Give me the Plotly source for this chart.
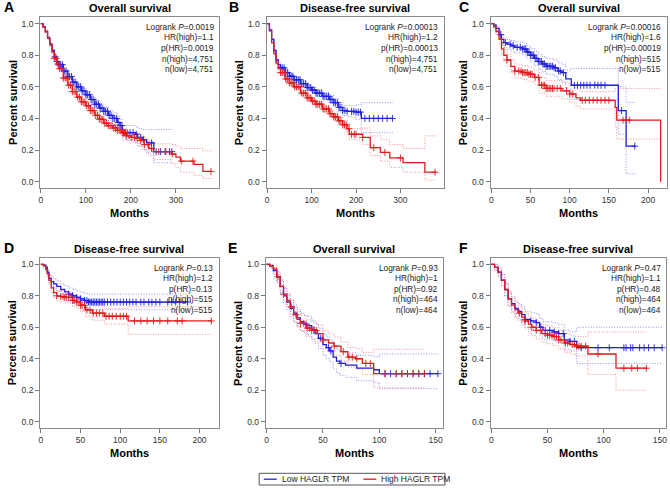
import numpy as np
import plotly.graph_objects as go

# ---------------- data ----------------
# Panel A - Overall survival (n=4,751 per group)
A_low_t = [0, 5, 10, 15, 20, 25, 30, 35, 40, 50, 60, 70, 80, 90, 100, 110, 120, 130, 140, 150, 160, 170, 176, 181, 210, 215, 225, 235, 251, 292]
A_low_s = [1.0, 0.98, 0.95, 0.91, 0.87, 0.83, 0.79, 0.76, 0.74, 0.70, 0.665, 0.63, 0.60, 0.575, 0.55, 0.52, 0.49, 0.465, 0.445, 0.42, 0.40, 0.375, 0.355, 0.31, 0.30, 0.28, 0.265, 0.245, 0.19, 0.19]
A_low_hi = [1.0, 0.985, 0.957, 0.92, 0.88, 0.84, 0.80, 0.772, 0.752, 0.713, 0.68, 0.645, 0.617, 0.593, 0.57, 0.542, 0.515, 0.492, 0.474, 0.452, 0.435, 0.412, 0.395, 0.355, 0.35, 0.335, 0.33, 0.33, 0.33, 0.33]
A_low_lo = [1.0, 0.975, 0.943, 0.90, 0.86, 0.82, 0.78, 0.748, 0.728, 0.687, 0.65, 0.615, 0.583, 0.557, 0.53, 0.498, 0.465, 0.438, 0.416, 0.388, 0.365, 0.338, 0.315, 0.265, 0.25, 0.225, 0.205, 0.18, 0.12, 0.12]
A_low_cens = [32, 36, 40, 44, 48, 52, 56, 60, 64, 68, 72, 76, 80, 84, 88, 92, 96, 100, 104, 108, 112, 116, 120, 124, 128, 132, 136, 140, 144, 148, 152, 156, 160, 164, 168, 172, 176, 180, 184, 188, 192, 198, 205, 212, 222, 228, 246, 256, 266, 276, 286, 291]
A_high_t = [0, 5, 10, 15, 20, 25, 30, 35, 40, 50, 60, 70, 80, 90, 100, 110, 120, 130, 140, 150, 160, 170, 180, 190, 200, 210, 220, 230, 240, 250, 290, 300, 310, 340, 360, 380]
A_high_s = [1.0, 0.98, 0.95, 0.91, 0.865, 0.82, 0.78, 0.745, 0.715, 0.655, 0.61, 0.57, 0.535, 0.505, 0.48, 0.45, 0.42, 0.395, 0.37, 0.355, 0.34, 0.325, 0.31, 0.29, 0.28, 0.275, 0.26, 0.235, 0.21, 0.19, 0.175, 0.155, 0.13, 0.11, 0.065, 0.065]
A_high_hi = [1.0, 0.985, 0.957, 0.918, 0.874, 0.83, 0.79, 0.755, 0.726, 0.667, 0.622, 0.583, 0.549, 0.52, 0.496, 0.467, 0.438, 0.414, 0.39, 0.376, 0.362, 0.349, 0.336, 0.318, 0.31, 0.308, 0.296, 0.275, 0.255, 0.24, 0.235, 0.225, 0.21, 0.21, 0.195, 0.2]
A_high_lo = [1.0, 0.975, 0.943, 0.902, 0.856, 0.81, 0.77, 0.735, 0.704, 0.643, 0.598, 0.557, 0.521, 0.49, 0.464, 0.433, 0.402, 0.376, 0.35, 0.334, 0.318, 0.301, 0.284, 0.262, 0.25, 0.242, 0.224, 0.195, 0.165, 0.14, 0.115, 0.09, 0.06, 0.04, 0.02, 0.02]
A_high_cens = [30, 34, 38, 42, 46, 50, 54, 58, 62, 66, 70, 74, 78, 82, 86, 90, 94, 98, 102, 106, 110, 114, 118, 122, 126, 130, 134, 138, 142, 146, 150, 154, 158, 162, 166, 170, 174, 178, 182, 186, 190, 196, 202, 208, 214, 222, 230, 238, 246, 262, 278, 292, 312, 338, 378]
A_stats = ["Logrank <i>P</i>=0.0019", "HR(high)=1.1", "p(HR)=0.0019", "n(high)=4,751", "n(low)=4,751"]

# Panel B - Disease-free survival (n=4,751 per group)
B_low_t = [0, 5, 10, 15, 20, 25, 30, 40, 50, 60, 75, 90, 100, 110, 125, 140, 150, 160, 170, 180, 200, 212, 283]
B_low_s = [1.0, 0.96, 0.90, 0.83, 0.77, 0.74, 0.72, 0.69, 0.667, 0.645, 0.62, 0.595, 0.58, 0.56, 0.54, 0.52, 0.50, 0.47, 0.45, 0.445, 0.44, 0.40, 0.40]
B_low_hi = [1.0, 0.966, 0.908, 0.839, 0.78, 0.751, 0.731, 0.702, 0.68, 0.659, 0.635, 0.611, 0.598, 0.58, 0.562, 0.545, 0.527, 0.5, 0.482, 0.48, 0.485, 0.50, 0.50]
B_low_lo = [1.0, 0.954, 0.892, 0.821, 0.76, 0.729, 0.709, 0.678, 0.654, 0.631, 0.605, 0.579, 0.562, 0.54, 0.518, 0.495, 0.473, 0.44, 0.418, 0.41, 0.395, 0.31, 0.31]
B_low_cens = [30, 34, 38, 42, 46, 50, 54, 58, 62, 66, 70, 74, 78, 82, 86, 90, 94, 98, 102, 106, 110, 114, 118, 122, 126, 130, 134, 138, 142, 146, 150, 154, 158, 162, 166, 170, 175, 180, 190, 195, 200, 205, 210, 220, 230, 240, 250, 260, 270, 282]
B_high_t = [0, 5, 10, 15, 20, 25, 30, 40, 50, 60, 75, 90, 100, 110, 125, 140, 150, 160, 170, 180, 185, 215, 232, 255, 276, 306, 355, 380]
B_high_s = [1.0, 0.955, 0.88, 0.81, 0.75, 0.715, 0.69, 0.65, 0.625, 0.60, 0.56, 0.53, 0.51, 0.49, 0.46, 0.43, 0.41, 0.385, 0.36, 0.335, 0.30, 0.28, 0.215, 0.185, 0.15, 0.12, 0.06, 0.06]
B_high_hi = [1.0, 0.961, 0.888, 0.819, 0.76, 0.726, 0.701, 0.662, 0.638, 0.614, 0.575, 0.546, 0.527, 0.508, 0.48, 0.452, 0.434, 0.41, 0.387, 0.365, 0.335, 0.34, 0.29, 0.265, 0.235, 0.21, 0.29, 0.29]
B_high_lo = [1.0, 0.949, 0.872, 0.801, 0.74, 0.704, 0.679, 0.638, 0.612, 0.586, 0.545, 0.514, 0.493, 0.472, 0.44, 0.408, 0.386, 0.36, 0.333, 0.305, 0.265, 0.235, 0.165, 0.13, 0.09, 0.06, 0.01, 0.01]
B_high_cens = [30, 34, 38, 42, 46, 50, 54, 58, 62, 66, 70, 74, 78, 82, 86, 90, 94, 98, 102, 106, 110, 114, 118, 122, 126, 130, 134, 138, 142, 146, 150, 154, 158, 162, 166, 170, 174, 178, 184, 190, 196, 200, 215, 240, 265, 300, 378]
B_stats = ["Logrank <i>P</i>=0.00013", "HR(high)=1.2", "p(HR)=0.00013", "n(high)=4,751", "n(low)=4,751"]

# Panel C - Overall survival (n=515 per group)
C_low_t = [0, 3, 6, 10, 13, 16, 20, 25, 30, 40, 45, 50, 55, 60, 65, 70, 80, 85, 90, 95, 102, 162, 172, 184]
C_low_s = [1.0, 0.99, 0.97, 0.93, 0.90, 0.88, 0.87, 0.86, 0.85, 0.84, 0.82, 0.80, 0.78, 0.76, 0.745, 0.73, 0.72, 0.70, 0.69, 0.65, 0.61, 0.45, 0.225, 0.225]
C_low_hi = [1.0, 1.0, 0.985, 0.955, 0.93, 0.91, 0.90, 0.893, 0.885, 0.877, 0.86, 0.842, 0.823, 0.805, 0.792, 0.778, 0.77, 0.752, 0.743, 0.706, 0.716, 0.6, 0.5, 0.5]
C_low_lo = [1.0, 0.98, 0.955, 0.905, 0.87, 0.85, 0.838, 0.826, 0.814, 0.802, 0.78, 0.757, 0.735, 0.713, 0.697, 0.68, 0.668, 0.647, 0.635, 0.592, 0.52, 0.3, 0.05, 0.05]
C_low_cens = [12, 18, 24, 28, 33, 37, 40, 42, 44, 46, 48, 50, 52, 54, 56, 58, 60, 62, 64, 66, 68, 70, 72, 74, 76, 78, 80, 82, 86, 88, 92, 106, 110, 114, 118, 122, 126, 132, 136, 140, 145, 166, 183]
C_high_t = [0, 3, 6, 10, 13, 16, 20, 25, 30, 40, 47, 55, 61, 70, 90, 100, 108, 114, 158, 160, 216]
C_high_s = [1.0, 0.98, 0.95, 0.90, 0.84, 0.80, 0.77, 0.73, 0.70, 0.69, 0.68, 0.66, 0.61, 0.59, 0.575, 0.555, 0.53, 0.515, 0.47, 0.39, 0.0]
C_high_hi = [1.0, 0.995, 0.972, 0.93, 0.875, 0.837, 0.809, 0.771, 0.743, 0.734, 0.725, 0.706, 0.658, 0.64, 0.626, 0.608, 0.585, 0.57, 0.59, 0.59, 0.59]
C_high_lo = [1.0, 0.965, 0.928, 0.87, 0.805, 0.763, 0.731, 0.689, 0.657, 0.646, 0.635, 0.614, 0.562, 0.54, 0.524, 0.502, 0.475, 0.46, 0.35, 0.27, 0.27]
C_high_cens = [20, 30, 35, 38, 40, 42, 44, 46, 48, 50, 52, 56, 60, 64, 66, 68, 70, 72, 74, 76, 78, 80, 84, 88, 96, 100, 104, 116, 120, 125, 130, 135, 140, 145, 150, 168, 172, 176]
C_stats = ["Logrank <i>P</i>=0.00016", "HR(high)=1.6", "p(HR)=0.00019", "n(high)=515", "n(low)=515"]

# Panel D - Disease-free survival (n=515 per group)
D_low_t = [0, 3, 6, 8, 10, 13, 16, 20, 25, 30, 35, 40, 45, 50, 55, 60, 185]
D_low_s = [1.0, 0.995, 0.98, 0.95, 0.91, 0.89, 0.875, 0.86, 0.84, 0.825, 0.81, 0.80, 0.79, 0.78, 0.77, 0.76, 0.76]
D_low_hi = [1.0, 1.0, 0.995, 0.972, 0.937, 0.92, 0.906, 0.893, 0.875, 0.862, 0.849, 0.84, 0.831, 0.823, 0.814, 0.81, 0.81]
D_low_lo = [1.0, 0.988, 0.965, 0.928, 0.883, 0.86, 0.844, 0.827, 0.805, 0.788, 0.771, 0.76, 0.749, 0.737, 0.726, 0.712, 0.712]
D_low_cens = [35, 40, 45, 50, 55, 58, 60, 62, 64, 66, 68, 70, 72, 74, 76, 78, 80, 84, 88, 92, 96, 100, 104, 108, 112, 116, 120, 126, 130, 136, 140, 145, 150, 160, 165, 170, 175, 185]
D_high_t = [0, 3, 6, 8, 10, 13, 16, 20, 25, 30, 40, 45, 50, 56, 65, 80, 110, 215]
D_high_s = [1.0, 0.99, 0.97, 0.94, 0.90, 0.85, 0.82, 0.80, 0.795, 0.79, 0.77, 0.76, 0.74, 0.71, 0.69, 0.67, 0.64, 0.64]
D_high_hi = [1.0, 1.0, 0.985, 0.962, 0.927, 0.88, 0.852, 0.833, 0.829, 0.825, 0.807, 0.798, 0.78, 0.752, 0.735, 0.72, 0.73, 0.73]
D_high_lo = [1.0, 0.98, 0.955, 0.918, 0.873, 0.82, 0.788, 0.767, 0.761, 0.755, 0.733, 0.722, 0.7, 0.668, 0.645, 0.62, 0.555, 0.555]
D_high_cens = [20, 25, 28, 30, 32, 35, 38, 40, 42, 45, 48, 50, 52, 55, 58, 62, 66, 70, 74, 78, 82, 86, 90, 95, 100, 104, 108, 118, 126, 134, 142, 150, 160, 172, 178, 215]
D_stats = ["Logrank <i>P</i>=0.13", "HR(high)=1.2", "p(HR)=0.13", "n(high)=515", "n(low)=515"]

# Panel E - Overall survival (n=464 per group)
E_low_t = [0, 3, 6, 9, 12, 15, 18, 21, 24, 27, 30, 33, 36, 40, 43, 46, 50, 53, 56, 59, 62, 65, 70, 80, 95, 100, 152]
E_low_s = [1.0, 0.99, 0.96, 0.92, 0.86, 0.80, 0.76, 0.72, 0.69, 0.66, 0.635, 0.62, 0.61, 0.585, 0.56, 0.53, 0.49, 0.47, 0.45, 0.41, 0.385, 0.37, 0.36, 0.34, 0.33, 0.305, 0.305]
E_low_hi = [1.0, 1.0, 0.98, 0.95, 0.9, 0.845, 0.808, 0.77, 0.742, 0.714, 0.69, 0.677, 0.668, 0.645, 0.622, 0.594, 0.557, 0.539, 0.52, 0.484, 0.46, 0.447, 0.438, 0.42, 0.412, 0.43, 0.43]
E_low_lo = [1.0, 0.975, 0.935, 0.885, 0.82, 0.755, 0.712, 0.67, 0.638, 0.606, 0.58, 0.563, 0.552, 0.525, 0.498, 0.466, 0.423, 0.401, 0.38, 0.336, 0.31, 0.293, 0.282, 0.26, 0.248, 0.21, 0.21]
E_low_cens = [35, 42, 48, 55, 57, 66, 105, 110, 115, 120, 125, 130, 135, 140, 145, 152]
E_high_t = [0, 3, 6, 9, 12, 15, 18, 21, 24, 27, 30, 35, 40, 45, 50, 55, 60, 66, 72, 79, 85, 95, 140]
E_high_s = [1.0, 0.99, 0.97, 0.92, 0.86, 0.81, 0.77, 0.73, 0.68, 0.65, 0.625, 0.595, 0.58, 0.56, 0.52, 0.50, 0.48, 0.445, 0.41, 0.40, 0.37, 0.305, 0.305]
E_high_hi = [1.0, 1.0, 0.99, 0.955, 0.9, 0.853, 0.815, 0.777, 0.729, 0.7, 0.676, 0.648, 0.634, 0.615, 0.577, 0.558, 0.539, 0.506, 0.473, 0.465, 0.44, 0.46, 0.46]
E_high_lo = [1.0, 0.98, 0.945, 0.885, 0.82, 0.767, 0.725, 0.683, 0.631, 0.6, 0.574, 0.542, 0.526, 0.505, 0.463, 0.442, 0.421, 0.384, 0.347, 0.335, 0.3, 0.215, 0.215]
E_high_cens = [10, 15, 22, 26, 30, 33, 36, 38, 40, 42, 44, 50, 60, 68, 73, 76, 80, 88, 92, 105, 115, 120, 125, 130, 135, 140]
E_stats = ["Logrank <i>P</i>=0.93", "HR(high)=1", "p(HR)=0.92", "n(high)=464", "n(low)=464"]

# Panel F - Disease-free survival (n=464 per group)
F_low_t = [0, 3, 6, 9, 12, 15, 18, 21, 24, 27, 30, 35, 40, 43, 46, 55, 60, 65, 70, 76, 152]
F_low_s = [1.0, 0.98, 0.95, 0.90, 0.84, 0.78, 0.75, 0.72, 0.70, 0.68, 0.65, 0.64, 0.63, 0.60, 0.58, 0.57, 0.56, 0.52, 0.51, 0.47, 0.47]
F_low_hi = [1.0, 1.0, 0.975, 0.935, 0.88, 0.825, 0.797, 0.768, 0.749, 0.73, 0.701, 0.692, 0.683, 0.655, 0.636, 0.627, 0.618, 0.58, 0.571, 0.6, 0.6]
F_low_lo = [1.0, 0.965, 0.925, 0.865, 0.8, 0.735, 0.703, 0.672, 0.651, 0.63, 0.599, 0.588, 0.577, 0.545, 0.524, 0.513, 0.502, 0.46, 0.449, 0.37, 0.37]
F_low_cens = [30, 35, 40, 44, 48, 52, 56, 60, 64, 70, 74, 80, 95, 105, 118, 120, 124, 126, 132, 136, 140, 145, 152]
F_high_t = [0, 3, 6, 9, 12, 15, 18, 21, 24, 27, 30, 33, 36, 40, 45, 50, 55, 60, 65, 70, 75, 86, 111, 138]
F_high_s = [1.0, 0.98, 0.95, 0.90, 0.84, 0.78, 0.74, 0.71, 0.69, 0.665, 0.64, 0.62, 0.60, 0.58, 0.56, 0.55, 0.54, 0.52, 0.50, 0.49, 0.48, 0.43, 0.34, 0.34]
F_high_hi = [1.0, 1.0, 0.975, 0.935, 0.88, 0.825, 0.787, 0.758, 0.739, 0.715, 0.691, 0.672, 0.653, 0.634, 0.615, 0.606, 0.597, 0.578, 0.559, 0.55, 0.541, 0.57, 0.57, 0.57]
F_high_lo = [1.0, 0.96, 0.925, 0.865, 0.8, 0.735, 0.693, 0.662, 0.641, 0.615, 0.589, 0.568, 0.547, 0.526, 0.505, 0.494, 0.483, 0.462, 0.441, 0.43, 0.419, 0.3, 0.2, 0.2]
F_high_cens = [25, 30, 36, 40, 44, 48, 50, 52, 54, 56, 58, 60, 62, 66, 68, 72, 74, 76, 78, 80, 84, 95, 118, 125, 130, 138]
F_stats = ["Logrank <i>P</i>=0.47", "HR(high)=1.1", "p(HR)=0.48", "n(high)=464", "n(low)=464"]

Y_TICKS = [0.0, 0.2, 0.4, 0.6, 0.8, 1.0]
Y_TICK_LABELS = ["0.0", "0.2", "0.4", "0.6", "0.8", "1.0"]
LEGEND_LABELS = ["Low HAGLR TPM", "High HAGLR TPM"]

# ---------------- styling / layout ----------------
W, H = 670, 489
FONT = "Liberation Sans, Arial, Helvetica, sans-serif"
BLUE, RED = "#1f1fe0", "#e41a1c"
BLUE_CI, RED_CI = "rgba(80,80,245,0.7)", "rgba(245,80,80,0.7)"

def px(x):
    return x / W

def py(y):
    return 1 - y / H

panels = [
    dict(letter="A", title="Overall survival", box=(38.3, 17.3, 218.3, 188.0), xr=[-1.5, 396.5], xt=[0, 100, 200, 300],
         low=(A_low_t, A_low_s, A_low_lo, A_low_hi, A_low_cens), high=(A_high_t, A_high_s, A_high_lo, A_high_hi, A_high_cens), stats=A_stats),
    dict(letter="B", title="Disease-free survival", box=(265.7, 17.3, 443.5, 188.0), xr=[-1.5, 397], xt=[0, 100, 200, 300],
         low=(B_low_t, B_low_s, B_low_lo, B_low_hi, B_low_cens), high=(B_high_t, B_high_s, B_high_lo, B_high_hi, B_high_cens), stats=B_stats),
    dict(letter="C", title="Overall survival", box=(490.7, 17.3, 667.5, 188.0), xr=[-1, 223.5], xt=[0, 50, 100, 150, 200],
         low=(C_low_t, C_low_s, C_low_lo, C_low_hi, C_low_cens), high=(C_high_t, C_high_s, C_high_lo, C_high_hi, C_high_cens), stats=C_stats),
    dict(letter="D", title="Disease-free survival", box=(38.3, 258.0, 217.5, 428.0), xr=[-1, 224], xt=[0, 50, 100, 150, 200],
         low=(D_low_t, D_low_s, D_low_lo, D_low_hi, D_low_cens), high=(D_high_t, D_high_s, D_high_lo, D_high_hi, D_high_cens), stats=D_stats),
    dict(letter="E", title="Overall survival", box=(265.0, 258.0, 443.0, 428.0), xr=[-0.7, 156.5], xt=[0, 50, 100, 150],
         low=(E_low_t, E_low_s, E_low_lo, E_low_hi, E_low_cens), high=(E_high_t, E_high_s, E_high_lo, E_high_hi, E_high_cens), stats=E_stats),
    dict(letter="F", title="Disease-free survival", box=(490.7, 258.0, 667.0, 428.0), xr=[-0.7, 155.5], xt=[0, 50, 100, 150],
         low=(F_low_t, F_low_s, F_low_lo, F_low_hi, F_low_cens), high=(F_high_t, F_high_s, F_high_lo, F_high_hi, F_high_cens), stats=F_stats),
]

fig = go.Figure()
annotations = []
layout_axes = {}

def step_at(t, s, c):
    t = np.asarray(t, float)
    s = np.asarray(s, float)
    idx = np.searchsorted(t, np.asarray(c, float), side="right") - 1
    return s[np.clip(idx, 0, len(s) - 1)]

for i, p in enumerate(panels, start=1):
    xa = "x" if i == 1 else f"x{i}"
    ya = "y" if i == 1 else f"y{i}"
    l, t_, r, b = p["box"]
    # CI lines
    for (cur, cic) in ((p["low"], BLUE_CI), (p["high"], RED_CI)):
        tt, ss, lo, hi, cens = cur
        for band in (lo, hi):
            fig.add_trace(go.Scatter(x=tt, y=band, mode="lines",
                                     line=dict(color=cic, width=0.9, dash="1px,1.6px", shape="hv"),
                                     xaxis=xa, yaxis=ya, showlegend=False, hoverinfo="skip"))
    # main curves and censor marks (low first, high on top)
    for (cur, col) in ((p["low"], BLUE), (p["high"], RED)):
        tt, ss, lo, hi, cens = cur
        fig.add_trace(go.Scatter(x=tt, y=ss, mode="lines", line=dict(color=col, width=1.3, shape="hv"),
                                 xaxis=xa, yaxis=ya, showlegend=False))
        fig.add_trace(go.Scatter(x=cens, y=step_at(tt, ss, cens), mode="markers",
                                 marker=dict(symbol="cross-thin", size=5, line=dict(color=col, width=0.9)),
                                 xaxis=xa, yaxis=ya, showlegend=False))
    layout_axes["xaxis" if i == 1 else f"xaxis{i}"] = dict(
        domain=[px(l), px(r)], range=p["xr"], anchor=ya, tickvals=p["xt"], ticks="outside", ticklen=4,
        tickcolor="#7a7a7a", showline=True, linecolor="#8a8a8a", linewidth=1, mirror=True, showgrid=False,
        zeroline=False, tickfont=dict(size=8.5, color="#333333", family=FONT))
    layout_axes["yaxis" if i == 1 else f"yaxis{i}"] = dict(
        domain=[py(b), py(t_)], range=[-0.04, 1.04], anchor=xa, tickvals=Y_TICKS, ticktext=Y_TICK_LABELS,
        ticks="outside", ticklen=4, tickcolor="#7a7a7a", showline=True, linecolor="#8a8a8a", linewidth=1,
        mirror=True, showgrid=False, zeroline=False, tickfont=dict(size=8.5, color="#333333", family=FONT))

    cx = (l + r) / 2
    # panel title
    annotations.append(dict(x=px(cx), y=py(t_ - 9), xref="paper", yref="paper", text=f"<b>{p['title']}</b>",
                            showarrow=False, xanchor="center", yanchor="middle",
                            font=dict(size=11, color="black", family=FONT)))
    # panel letter
    lx = 0.0 if l < 100 else (l - 40.0 if l < 300 else l - 34.0)
    annotations.append(dict(x=px(lx), y=py(t_ - 10), xref="paper", yref="paper", text=f"<b>{p['letter']}</b>",
                            showarrow=False, xanchor="left", yanchor="middle",
                            font=dict(size=14, color="black", family=FONT)))
    # axis titles
    annotations.append(dict(x=px(cx), y=py(b + 24.5), xref="paper", yref="paper", text="<b>Months</b>",
                            showarrow=False, xanchor="center", yanchor="middle",
                            font=dict(size=11, color="black", family=FONT)))
    annotations.append(dict(x=px(l - 28), y=py((t_ + b) / 2), xref="paper", yref="paper", text="<b>Percent survival</b>",
                            showarrow=False, xanchor="center", yanchor="middle", textangle=-90,
                            font=dict(size=11, color="black", family=FONT)))
    # stats lines
    for k, line in enumerate(p["stats"]):
        annotations.append(dict(x=px(r - 3.5), y=py(t_ + 9.5 + 10.6 * k), xref="paper", yref="paper", text=line,
                                showarrow=False, xanchor="right", yanchor="middle", align="right",
                                font=dict(size=8.3, color="#222222", family=FONT)))

# manual legend
shapes = [dict(type="rect", xref="paper", yref="paper", x0=px(258.3), x1=px(445.0), y0=py(485.0), y1=py(473.3),
               line=dict(color="#555555", width=1), fillcolor="white")]
for (x0, col, lab) in ((263.0, BLUE, LEGEND_LABELS[0]), (363.0, RED, LEGEND_LABELS[1])):
    shapes.append(dict(type="line", xref="paper", yref="paper", x0=px(x0), x1=px(x0 + 13), y0=py(479.2), y1=py(479.2),
                       line=dict(color=col, width=1.3)))
    annotations.append(dict(x=px(x0 + 16), y=py(479.2), xref="paper", yref="paper", text=lab, showarrow=False,
                            xanchor="left", yanchor="middle", font=dict(size=8.5, color="#222222", family=FONT)))

fig.update_layout(width=W, height=H, autosize=False, margin=dict(l=0, r=0, t=0, b=0),
                  paper_bgcolor="white", plot_bgcolor="white", showlegend=False, hovermode=False,
                  annotations=annotations, shapes=shapes, font=dict(family=FONT), **layout_axes)

fig.write_html("out.html", config={"displayModeBar": False, "staticPlot": True},
               post_script="document.body.style.margin='0';document.body.style.padding='0';document.body.style.overflow='hidden';")
